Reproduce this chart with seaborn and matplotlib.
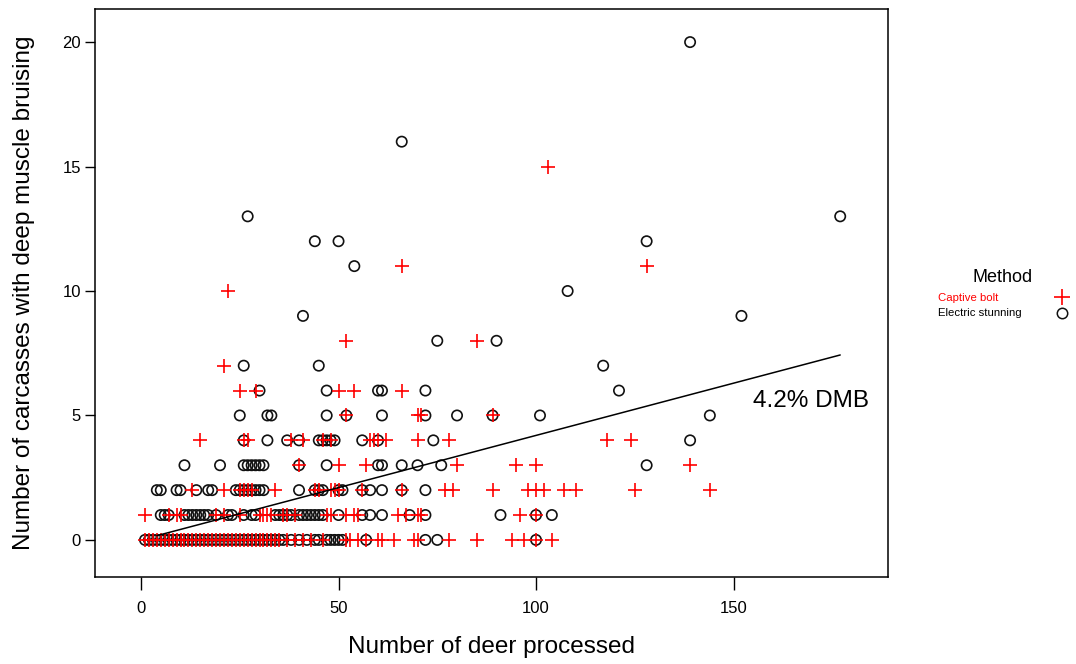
import matplotlib
matplotlib.use("Agg")
import matplotlib.pyplot as plt
import seaborn as sns
import pandas as pd
from matplotlib.lines import Line2D

# ---------------- data ----------------
# Electric stunning: x values (deer processed) for each count of bruised carcasses
elec_0 = list(range(1, 37)) + [38, 40, 42, 44, 45, 47, 48, 49, 50, 51, 57, 72, 75, 100]
elec_1 = [5, 6, 7, 11, 12, 13, 14, 15, 16, 17, 19, 22, 23, 26, 28, 29, 34, 35, 36, 37, 38,
          40, 41, 42, 43, 44, 45, 46, 50, 56, 58, 61, 68, 72, 91, 100, 104]
elec_2 = [4, 5, 9, 10, 14, 17, 18, 24, 25, 26, 27, 28, 29, 30, 31, 40, 44, 45, 46, 50, 51,
          56, 58, 61, 66, 72]
elec_3 = [11, 20, 26, 27, 28, 29, 30, 31, 40, 47, 60, 61, 66, 70, 76, 128]
elec_4 = [26, 32, 37, 40, 45, 46, 47, 48, 49, 56, 60, 74, 139]
elec_5 = [25, 32, 33, 47, 52, 61, 72, 80, 89, 101, 144]
elec_6 = [30, 47, 60, 61, 72, 121]
elec_7 = [26, 45, 117]
elec_8 = [75, 90]
elec_9 = [41, 152]
elec_10 = [108]
elec_11 = [54]
elec_12 = [44, 50, 128]
elec_13 = [27, 177]
elec_16 = [66]
elec_20 = [139]

# Captive bolt
bolt_0 = list(range(1, 36)) + [37, 39, 41, 43, 46, 52, 53, 55, 57, 60, 61, 64, 69, 70, 78,
                               85, 94, 97, 100, 104]
bolt_1 = [1, 7, 9, 10, 19, 21, 25, 30, 31, 32, 33, 36, 37, 39, 47, 48, 52, 54, 55, 65, 67,
          70, 71, 96, 100]
bolt_2 = [13, 21, 25, 26, 27, 28, 34, 44, 45, 48, 49, 50, 56, 66, 77, 79, 89, 98, 100, 102,
          107, 110, 125, 144]
bolt_3 = [40, 50, 57, 80, 95, 100, 139]
bolt_4 = [15, 26, 27, 38, 41, 46, 48, 58, 59, 60, 62, 70, 78, 118, 124]
bolt_5 = [52, 70, 71, 89]
bolt_6 = [25, 29, 50, 54, 66]
bolt_7 = [21]
bolt_8 = [52, 85]
bolt_10 = [22]
bolt_11 = [66, 128]
bolt_15 = [103]

# fitted line (4.2% DMB)
line_x = [4, 177]
line_y = [0.17, 7.43]

methods = ["Captive bolt", "Electric stunning"]
x_ticks = [0, 50, 100, 150]
y_ticks = [0, 5, 10, 15, 20]

elec_rows = {0: elec_0, 1: elec_1, 2: elec_2, 3: elec_3, 4: elec_4, 5: elec_5, 6: elec_6,
             7: elec_7, 8: elec_8, 9: elec_9, 10: elec_10, 11: elec_11, 12: elec_12,
             13: elec_13, 16: elec_16, 20: elec_20}
bolt_rows = {0: bolt_0, 1: bolt_1, 2: bolt_2, 3: bolt_3, 4: bolt_4, 5: bolt_5, 6: bolt_6,
             7: bolt_7, 8: bolt_8, 10: bolt_10, 11: bolt_11, 15: bolt_15}


def to_frame(rows, method):
    recs = []
    for yv, xs in rows.items():
        for xv in xs:
            recs.append({"deer": xv, "dmb": yv, "Method": method})
    return pd.DataFrame(recs)


df_bolt = to_frame(bolt_rows, methods[0])
df_elec = to_frame(elec_rows, methods[1])

# ---------------- plot ----------------
sns.set_style("white")
plt.rcParams["font.family"] = ["Liberation Sans", "DejaVu Sans"]
plt.rcParams["text.color"] = "black"
plt.rcParams["axes.labelcolor"] = "black"
plt.rcParams["xtick.color"] = "black"
plt.rcParams["ytick.color"] = "black"

W, H = 1076, 664
fig = plt.figure(figsize=(W / 100, H / 100), dpi=100)
L, R, T, B = 95, 888, 9, 577
ax = fig.add_axes([L / W, 1 - B / H, (R - L) / W, (B - T) / H])

sns.scatterplot(data=df_elec, x="deer", y="dmb", ax=ax, marker="o", s=55,
                facecolors="none", edgecolors="#111111", linewidths=1.2,
                legend=False, zorder=3)
sns.scatterplot(data=df_bolt, x="deer", y="dmb", ax=ax, marker="+", s=110,
                color="#ff0000", linewidths=1.2, legend=False, zorder=4)
sns.lineplot(x=line_x, y=line_y, ax=ax, color="black", linewidth=1.1, zorder=5)

ax.text(169.6, 5.58, "4.2% DMB", fontsize=17.5, ha="center", va="center", color="black")

ax.set_xlim(-11.65, 189.1)
ax.set_ylim(-1.49, 21.33)
ax.set_xticks(x_ticks)
ax.set_yticks(y_ticks)
ax.tick_params(axis="x", direction="out", length=9, width=1, colors="black",
               labelsize=12, pad=8, bottom=True)
ax.tick_params(axis="y", direction="out", length=7, width=1, colors="black",
               labelsize=12, pad=3, left=True)
for sp in ax.spines.values():
    sp.set_visible(True)
    sp.set_color("black")
    sp.set_linewidth(1.1)

ax.set_xlabel("Number of deer processed", fontsize=17.5, color="black")
ax.set_ylabel("Number of carcasses with deep muscle bruising", fontsize=17.5, color="black")
ax.xaxis.set_label_coords(0.5, -(636 - B) / (B - T))
ax.yaxis.set_label_coords((35 - L) / (R - L), 0.5)

# legend (drawn manually to mimic R layout)
fig.text(1003 / W, 1 - 277 / H, "Method", fontsize=13, ha="center", va="center")
fig.text(938 / W, 1 - 298 / H, methods[0], fontsize=8.2, color="#ff0000",
         ha="left", va="center")
fig.text(938 / W, 1 - 313 / H, methods[1], fontsize=8.2, color="black",
         ha="left", va="center")
fig.add_artist(Line2D([1062 / W], [1 - 297 / H], marker="+", markersize=11,
                      markeredgewidth=1.2, color="#ff0000", transform=fig.transFigure))
fig.add_artist(Line2D([1062 / W], [1 - 313 / H], marker="o", markersize=7.5,
                      markerfacecolor="none", markeredgewidth=1.1,
                      markeredgecolor="#111111", transform=fig.transFigure))

fig.savefig("out.png", dpi=100, facecolor="white")
